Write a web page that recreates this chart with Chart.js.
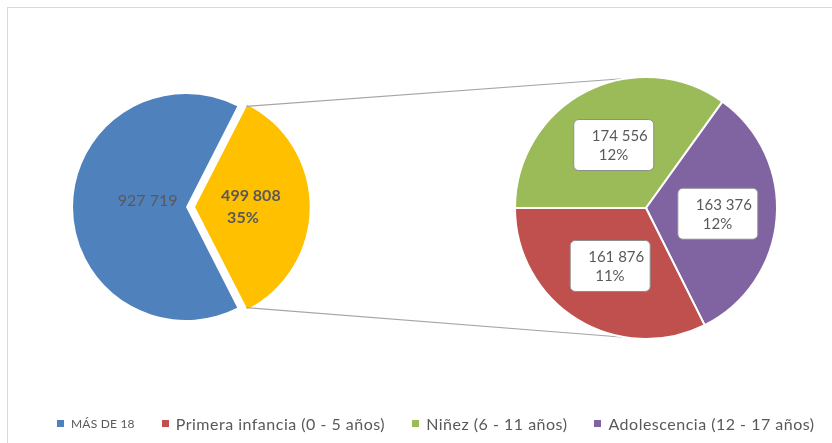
<!DOCTYPE html>
<html lang="es">
<head>
    <meta charset="UTF-8">
    <title>Pie of pie - población</title>
    <script src="https://cdn.jsdelivr.net/npm/chart.js"></script>
    <style>
        html, body { margin: 0; padding: 0; background: #fff; overflow: hidden; }
        .wrap { position: relative; width: 832px; height: 443px; overflow: hidden; font-family: Lato, "Liberation Sans", sans-serif; }
        .frame { position: absolute; left: 7px; top: 7px; width: 900px; height: 500px; border: 1px solid #d9d9d9; }
        .wrap canvas { position: absolute; left: 0; top: 0; }
        .legend { position: absolute; left: 57px; top: 414px; display: flex; align-items: center; color: #595959; font-size: 16px; letter-spacing: 0.5px; }
        .legend div { display: flex; align-items: center; margin-right: 27px; white-space: nowrap; }
        .legend span { display: inline-block; width: 7px; height: 7px; margin-right: 7px; }
        .legend .small { font-size: 12px; letter-spacing: 0.2px; }
    </style>
</head>
<body>
<div class="wrap">
    <div class="frame"></div>
    <canvas id="mainPie" width="832" height="443"></canvas>
    <canvas id="subPie" width="832" height="443"></canvas>
    <div class="legend" id="legend"></div>
</div>

<script>
    // main pie: adults vs. under 18 (split out on the right)
    const mainLabels = ['MÁS DE 18', 'Menores de 18'];
    const mainValues = [927719, 499808];
    const mainPct = ['', '35%'];

    // secondary pie, in drawing order (starting at 9 o'clock, clockwise)
    const subLabels = ['Niñez (6 - 11 años)', 'Adolescencia (12 - 17 años)', 'Primera infancia (0 - 5 años)'];
    const subValues = [174556, 163376, 161876];
    const subPct = ['12%', '12%', '11%'];

    // legend order as in the picture
    const legendLabels = ['MÁS DE 18', 'Primera infancia (0 - 5 años)', 'Niñez (6 - 11 años)', 'Adolescencia (12 - 17 años)'];

    const colors = {
        'MÁS DE 18': '#4f81bd',
        'Menores de 18': '#ffc000',
        'Primera infancia (0 - 5 años)': '#c0504d',
        'Niñez (6 - 11 años)': '#9bbb59',
        'Adolescencia (12 - 17 años)': '#8064a2'
    };

    const fmt = v => String(v).replace(/\B(?=(\d{3})+(?!\d))/g, ' ');

    // data labels, drawn by hand (no datalabels plugin offline)
    const sliceLabels = {
        id: 'sliceLabels',
        afterDatasetsDraw(chart, args, opts) {
            const ctx = chart.ctx;
            const meta = chart.getDatasetMeta(0);
            const ds = chart.data.datasets[0];
            meta.data.forEach((arc, i) => {
                const mid = (arc.startAngle + arc.endAngle) / 2;
                const off = (arc.options.offset || 0) / 4;
                const r = arc.outerRadius * opts.dist[i];
                const x = arc.x + Math.cos(mid) * (off + r);
                const y = arc.y + Math.sin(mid) * (off + r);
                const l1 = fmt(ds.data[i]);
                const l2 = opts.pct[i];
                ctx.save();
                ctx.fillStyle = '#595959';
                ctx.textBaseline = 'middle';
                if (opts.boxed) {
                    const w = 80, h = 51;
                    const bx = x - w / 2, by = y - h / 2;
                    ctx.beginPath();
                    ctx.roundRect(bx, by, w, h, 5);
                    ctx.fillStyle = '#ffffff';
                    ctx.fill();
                    ctx.strokeStyle = '#8c8c8c';
                    ctx.lineWidth = 1;
                    ctx.stroke();
                    ctx.fillStyle = '#595959';
                    ctx.font = '15px Lato';
                    ctx.textAlign = 'left';
                    ctx.fillText(l1, bx + 18, by + 17);
                    ctx.fillText(l2, bx + 25, by + 36);
                } else {
                    ctx.font = (opts.bold[i] ? 'bold ' : '') + '16px Lato';
                    if (l2) {
                        ctx.textAlign = 'left';
                        ctx.fillText(l1, x - 27, y - 11);
                        ctx.fillText(l2, x - 21, y + 11);
                    } else {
                        ctx.textAlign = 'center';
                        ctx.fillText(l1, x, y - 6);
                    }
                }
                ctx.restore();
            });
        }
    };

    const mainTotal = mainValues.reduce((a, b) => a + b, 0);
    const splitFrac = mainValues[1] / mainTotal;

    const mainChart = new Chart(document.getElementById('mainPie'), {
        type: 'pie',
        data: {
            labels: mainLabels,
            datasets: [{
                data: mainValues,
                backgroundColor: mainLabels.map(l => colors[l]),
                borderWidth: 0,
                offset: [0, 36],
                radius: 113
            }]
        },
        options: {
            responsive: false,
            animation: false,
            // split slice centred on 3 o'clock
            rotation: 90 + splitFrac * 180,
            layout: { padding: { left: 0, top: 0, right: 460, bottom: 29 } },
            plugins: {
                legend: { display: false },
                tooltip: { enabled: false },
                sliceLabels: { dist: [0.34, 0.47], pct: mainPct, bold: [false, true], boxed: false }
            }
        },
        plugins: [sliceLabels]
    });

    // grey lines from the split slice to the secondary pie
    const connectors = {
        id: 'connectors',
        beforeDatasetsDraw(chart) {
            const src = mainChart.getDatasetMeta(0).data[1];
            const dst = chart.getDatasetMeta(0).data[0];
            const mid = (src.startAngle + src.endAngle) / 2;
            const off = (src.options.offset || 0) / 4;
            const ox = src.x + Math.cos(mid) * off, oy = src.y + Math.sin(mid) * off;
            const R = src.outerRadius;
            const ctx = chart.ctx;
            ctx.save();
            ctx.strokeStyle = '#a6a6a6';
            ctx.lineWidth = 1.2;
            ctx.beginPath();
            ctx.moveTo(ox + Math.cos(src.startAngle) * R, oy + Math.sin(src.startAngle) * R);
            ctx.lineTo(dst.x, dst.y - dst.outerRadius);
            ctx.moveTo(ox + Math.cos(src.endAngle) * R, oy + Math.sin(src.endAngle) * R);
            ctx.lineTo(dst.x, dst.y + dst.outerRadius);
            ctx.stroke();
            ctx.restore();
        }
    };

    new Chart(document.getElementById('subPie'), {
        type: 'pie',
        data: {
            labels: subLabels,
            datasets: [{
                data: subValues,
                backgroundColor: subLabels.map(l => colors[l]),
                borderColor: '#ffffff',
                borderWidth: 2,
                radius: 131
            }]
        },
        options: {
            responsive: false,
            animation: false,
            rotation: 270,
            layout: { padding: { left: 460, top: 0, right: 0, bottom: 27 } },
            plugins: {
                legend: { display: false },
                tooltip: { enabled: false },
                sliceLabels: { dist: [0.54, 0.55, 0.52], pct: subPct, bold: [false, false, false], boxed: true }
            }
        },
        plugins: [connectors, sliceLabels]
    });

    // legend below the pies
    const legendEl = document.getElementById('legend');
    legendLabels.forEach((l, i) => {
        const item = document.createElement('div');
        const box = document.createElement('span');
        box.style.backgroundColor = colors[l];
        item.appendChild(box);
        const txt = document.createElement('em');
        txt.style.fontStyle = 'normal';
        if (i === 0) txt.className = 'small';
        txt.textContent = l;
        item.appendChild(txt);
        legendEl.appendChild(item);
    });
</script>
</body>
</html>
